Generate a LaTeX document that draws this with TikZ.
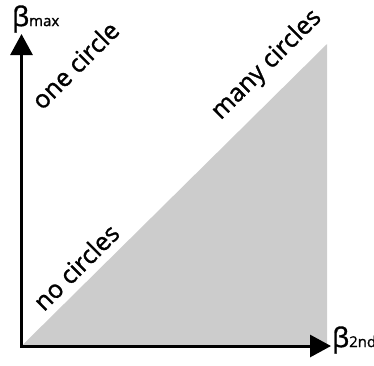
\documentclass[tikz,border=0pt]{standalone}
\usepackage{fontspec}
\setmainfont{Open Sans}
\newfontfamily\labfont{Open Sans}[FakeBold=1.2]
\usetikzlibrary{arrows.meta}
\definecolor{regiongray}{HTML}{CCCCCC}
\tikzset{
  axis/.style={line width=3pt, line cap=rect, -{Triangle[length=21pt,width=22pt]}},
  lab/.style={rotate=45, font=\labfont\fontsize{25}{25}\selectfont, inner sep=0pt},
  axlab/.style={inner sep=0pt, anchor=west, font=\labfont}
}
\begin{document}
\begin{tikzpicture}[x=1pt,y=1pt]
\useasboundingbox (0,0) rectangle (374,-365);
\coordinate (O) at (21.5,-346);
\coordinate (ytip) at (21.5,-34);
\coordinate (xtip) at (331,-346);
\coordinate (tr) at (327,-44);
\coordinate (br) at (327,-346);
\fill[regiongray] (O) -- (br) -- (tr) -- cycle;
\draw[axis] (O) -- (ytip);
\draw[axis] (O) -- (xtip);
\node[axlab] (ymax) at (12,-19) {\fontsize{27}{27}\selectfont β\fontsize{15}{15}\selectfont max};
\node[axlab] (x2nd) at (332,-340) {\fontsize{27}{27}\selectfont β\fontsize{15}{15}\selectfont 2nd};
\node[lab] (one) at (75,-65) {one circle};
\node[lab] (many) at (267,-65) {many circles};
\node[lab] (none) at (76,-267) {no circles};
\end{tikzpicture}
\end{document}
